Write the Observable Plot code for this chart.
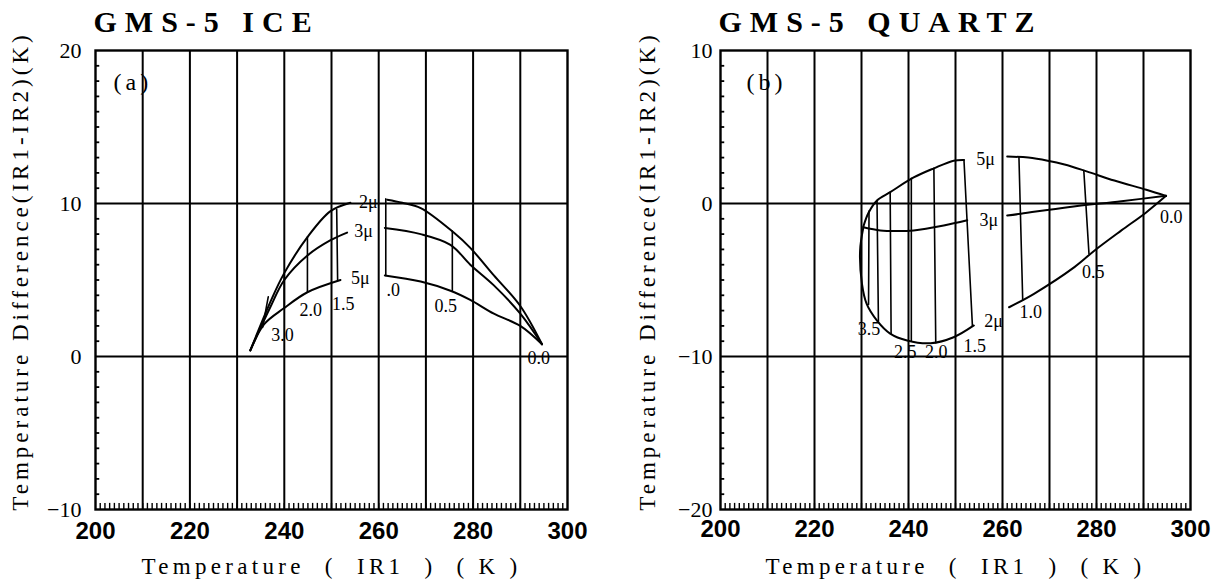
<!DOCTYPE html>
<html><head><meta charset="utf-8">
<script src="https://cdn.jsdelivr.net/npm/d3@7"></script>
<script src="https://cdn.jsdelivr.net/npm/@observablehq/plot@0.6"></script>
<style>
body{margin:0;background:#fff;}
#wrap{position:relative;width:1216px;height:585px;overflow:hidden;background:#fff;}
#left{position:absolute;left:0;top:0;}
#right{position:absolute;left:600px;top:0;}
svg{overflow:visible}
</style></head><body><div id="wrap"><div id="left"></div><div id="right"></div></div>
<script>
// ---- axis ticks ----
const xTicks = [200, 220, 240, 260, 280, 300];
const xGrid = [210, 220, 230, 240, 250, 260, 270, 280, 290];
const xMinor = d3.range(201, 300, 1);
const iceYTicks = [-10, 0, 10, 20];
const iceYGrid = [0, 10];
const qtzYTicks = [-20, -10, 0, 10];
const qtzYGrid = [-10, 0];

// ---- GMS-5 ICE (a): [T(IR1), IR1-IR2] ----
const iceR2Warm = [[261.8,10.25],[265.0,10.05],[268.9,9.7],[275.9,8.1],[279.4,7.1],[284.4,5.3],[290.0,3.3],[294.6,0.8]];
const iceR2Cold = [[232.8,0.4],[237.1,3.6],[239.9,5.4],[244.9,7.8],[249.8,9.5],[254.0,10.05]];
const iceR3Warm = [[261.3,8.4],[268.9,8.0],[275.2,7.3],[279.4,6.0],[284.4,4.65],[290.0,2.8],[294.6,0.8]];
const iceR3Cold = [[232.8,0.4],[237.0,3.2],[240.0,5.0],[244.9,6.6],[249.8,7.6],[253.3,8.1]];
const iceR5Warm = [[261.3,5.3],[268.9,4.9],[275.2,4.3],[279.4,3.7],[284.4,2.8],[290.0,2.0],[294.6,0.8]];
const iceR5Cold = [[232.8,0.4],[235.7,2.1],[239.9,3.15],[244.9,4.2],[251.9,5.0]];
// optical-thickness lines (from 2μ to 5μ)
const iceTau = [
  [[275.6,8.2],[275.6,4.3]],
  [[261.5,10.3],[261.5,5.3]],
  [[251.1,9.6],[251.3,4.95]],
  [[244.9,7.8],[244.9,4.2]],
  [[240.0,5.4],[240.0,3.15]],
  [[236.6,3.9],[235.4,1.9]]
];
const iceLabels = [[257.8,10.1,"2μ"],[256.8,8.2,"3μ"],[256.1,5.1,"5μ"],[263.1,4.3,".0"],[274.2,3.3,"0.5"],
  [245.6,3.0,"2.0"],[252.5,3.4,"1.5"],[239.6,1.4,"3.0"],[293.9,-0.1,"0.0"]];

// ---- GMS-5 QUARTZ (b) ----
const qtzR5Cold = [[230.4,-1.5],[231.5,-0.6],[233.3,0.2],[236.1,0.74],[241.1,1.7],[245.4,2.3],[249.6,2.8],[251.8,2.85]];
const qtzR5Warm = [[261.0,3.07],[265.5,3.0],[269.6,2.8],[273.2,2.55],[277.9,2.1],[283.8,1.5],[290.6,0.9],[294.8,0.5]];
const qtzR3Cold = [[230.4,-1.55],[234.0,-1.76],[237.5,-1.8],[241.1,-1.76],[247.5,-1.44],[252.5,-1.1]];
const qtzR3Warm = [[261.0,-0.78],[263.9,-0.67],[273.9,-0.24],[285.3,0.15],[294.8,0.5]];
const qtzR2Cold = [[230.4,-1.55],[229.7,-3.07],[230.1,-5.25],[231.1,-6.56],[233.3,-7.65],[236.1,-8.5],[239.7,-8.95],[244.7,-9.13],[249.6,-8.74],[253.9,-7.97]];
const qtzR2Warm = [[261.4,-6.78],[266.7,-5.9],[275.3,-4.16],[279.6,-3.07],[285.3,-1.76],[290.5,-0.6],[294.8,0.5]];
const qtzTau = [
  [[277.3,2.15],[278.4,-3.3]],
  [[263.5,3.0],[264.3,-6.3]],
  [[251.8,2.85],[253.6,-8.0]],
  [[245.4,2.3],[245.8,-9.1]],
  [[240.6,1.65],[240.6,-9.0]],
  [[236.1,0.74],[236.3,-8.5]],
  [[233.3,0.2],[233.6,-7.7]],
  [[231.6,-0.5],[231.5,-6.6]]
];
const qtzLabels = [[256.4,2.9,"5μ"],[257.1,-1.1,"3μ"],[258.1,-7.7,"2μ"],[266.0,-7.1,"1.0"],[279.3,-4.5,"0.5"],
  [254.1,-9.35,"1.5"],[245.9,-9.7,"2.0"],[239.3,-9.7,"2.5"],[231.6,-8.2,"3.5"],[295.9,-0.9,"0.0"]];

const yTitle = "Temperature Difference(IR1-IR2)(K)";
const xTitle = "Temperature\u00A0\u00A0(\u00A0\u00A0IR1\u00A0\u00A0)\u00A0\u00A0(\u00A0K\u00A0)";

function panel(o) {
  const rows = o.curves.flatMap((c, i) => c.map(([T, D]) => ({T, D, id: i})));
  const trows = o.tau.flatMap((c, i) => c.map(([T, D]) => ({T, D, id: i})));
  const yMinor = d3.range(o.yDomain[0] + 1, o.yDomain[1], 1).filter(v => v % 10 !== 0);
  const serif = "'Liberation Serif', 'DejaVu Serif', serif";
  const svg = Plot.plot({
    width: o.width, height: 585,
    marginLeft: o.marginLeft, marginRight: o.marginRight, marginTop: 50, marginBottom: 76,
    style: {background: "white", color: "black", fontFamily: serif, overflow: "visible"},
    x: {domain: [200, 300], label: null},
    y: {domain: o.yDomain, label: null},
    marks: [
      Plot.ruleX(xGrid, {stroke: "black", strokeWidth: 2}),
      Plot.ruleY(o.yGrid, {stroke: "black", strokeWidth: 2}),
      Plot.ruleX(xMinor, {y1: o.yDomain[0], y2: o.yDomain[0] + 0.4, stroke: "black", strokeWidth: 1.4}),
      Plot.ruleY(yMinor, {x1: 200, x2: 200.9, stroke: "black", strokeWidth: 1.8}),
      Plot.frame({stroke: "black", strokeWidth: 2.4}),
      Plot.line(trows, {x: "T", y: "D", z: "id", stroke: "black", strokeWidth: 1.6}),
      Plot.line(rows, {x: "T", y: "D", z: "id", curve: "catmull-rom", stroke: "black", strokeWidth: 2}),
      Plot.text(o.labels, {x: d => d[0], y: d => d[1], text: d => d[2], fontSize: 18, fontFamily: serif, fill: "black"}),
      Plot.axisX(xTicks, {tickSize: 0, tickPadding: o.padX, fontSize: 24, fontWeight: "bold", fontFamily: "'Liberation Sans', Arial, sans-serif", label: null}),
      Plot.axisY(o.yTicks, {tickSize: 0, tickPadding: o.padY, fontSize: 22, fontFamily: serif, label: null}),
      Plot.text([o.title], {frameAnchor: "top-left", textAnchor: "start", lineAnchor: "middle", dx: -2, dy: -28, fontSize: 30, fontWeight: "bold", fontFamily: serif}),
      Plot.text([o.tag], {frameAnchor: "top-left", textAnchor: "start", lineAnchor: "middle", dx: o.tagDx, dy: 32, fontSize: 24, fontFamily: serif}),
      Plot.text([xTitle], {frameAnchor: "bottom", textAnchor: "middle", lineAnchor: "middle", dy: 57, fontSize: 23, fontFamily: serif}),
      Plot.text([yTitle], {frameAnchor: "left", textAnchor: "middle", rotate: -90, lineAnchor: "middle", dx: o.yTitleDx, dy: -9, fontSize: 23, fontFamily: serif})
    ]
  });
  const s = d3.select(svg);
  s.selectAll("text").each(function() {
    const t = this.textContent;
    if (t === o.title) d3.select(this).style("letter-spacing", "8px");
    else if (t === o.tag) d3.select(this).style("letter-spacing", "4px");
    else if (t === xTitle) d3.select(this).style("letter-spacing", "4.3px");
    else if (t === yTitle) d3.select(this).style("letter-spacing", "4px");
  });
  return svg;
}

document.getElementById("left").append(panel({
  title: "GMS-5 ICE", tag: "(a)", tagDx: 18, width: 600, marginLeft: 95, marginRight: 33,
  yDomain: [-10, 20], yTicks: iceYTicks, yGrid: iceYGrid, padX: 12, padY: 14, yTitleDx: -75,
  curves: [iceR2Warm, iceR2Cold, iceR3Warm, iceR3Cold, iceR5Warm, iceR5Cold],
  tau: iceTau, labels: iceLabels
}));
document.getElementById("right").append(panel({
  title: "GMS-5 QUARTZ", tag: "(b)", tagDx: 26, width: 616, marginLeft: 120, marginRight: 26,
  yDomain: [-20, 10], yTicks: qtzYTicks, yGrid: qtzYGrid, padX: 10, padY: 8, yTitleDx: -73,
  curves: [qtzR5Cold, qtzR5Warm, qtzR3Cold, qtzR3Warm, qtzR2Cold, qtzR2Warm],
  tau: qtzTau, labels: qtzLabels
}));
</script></body></html>
